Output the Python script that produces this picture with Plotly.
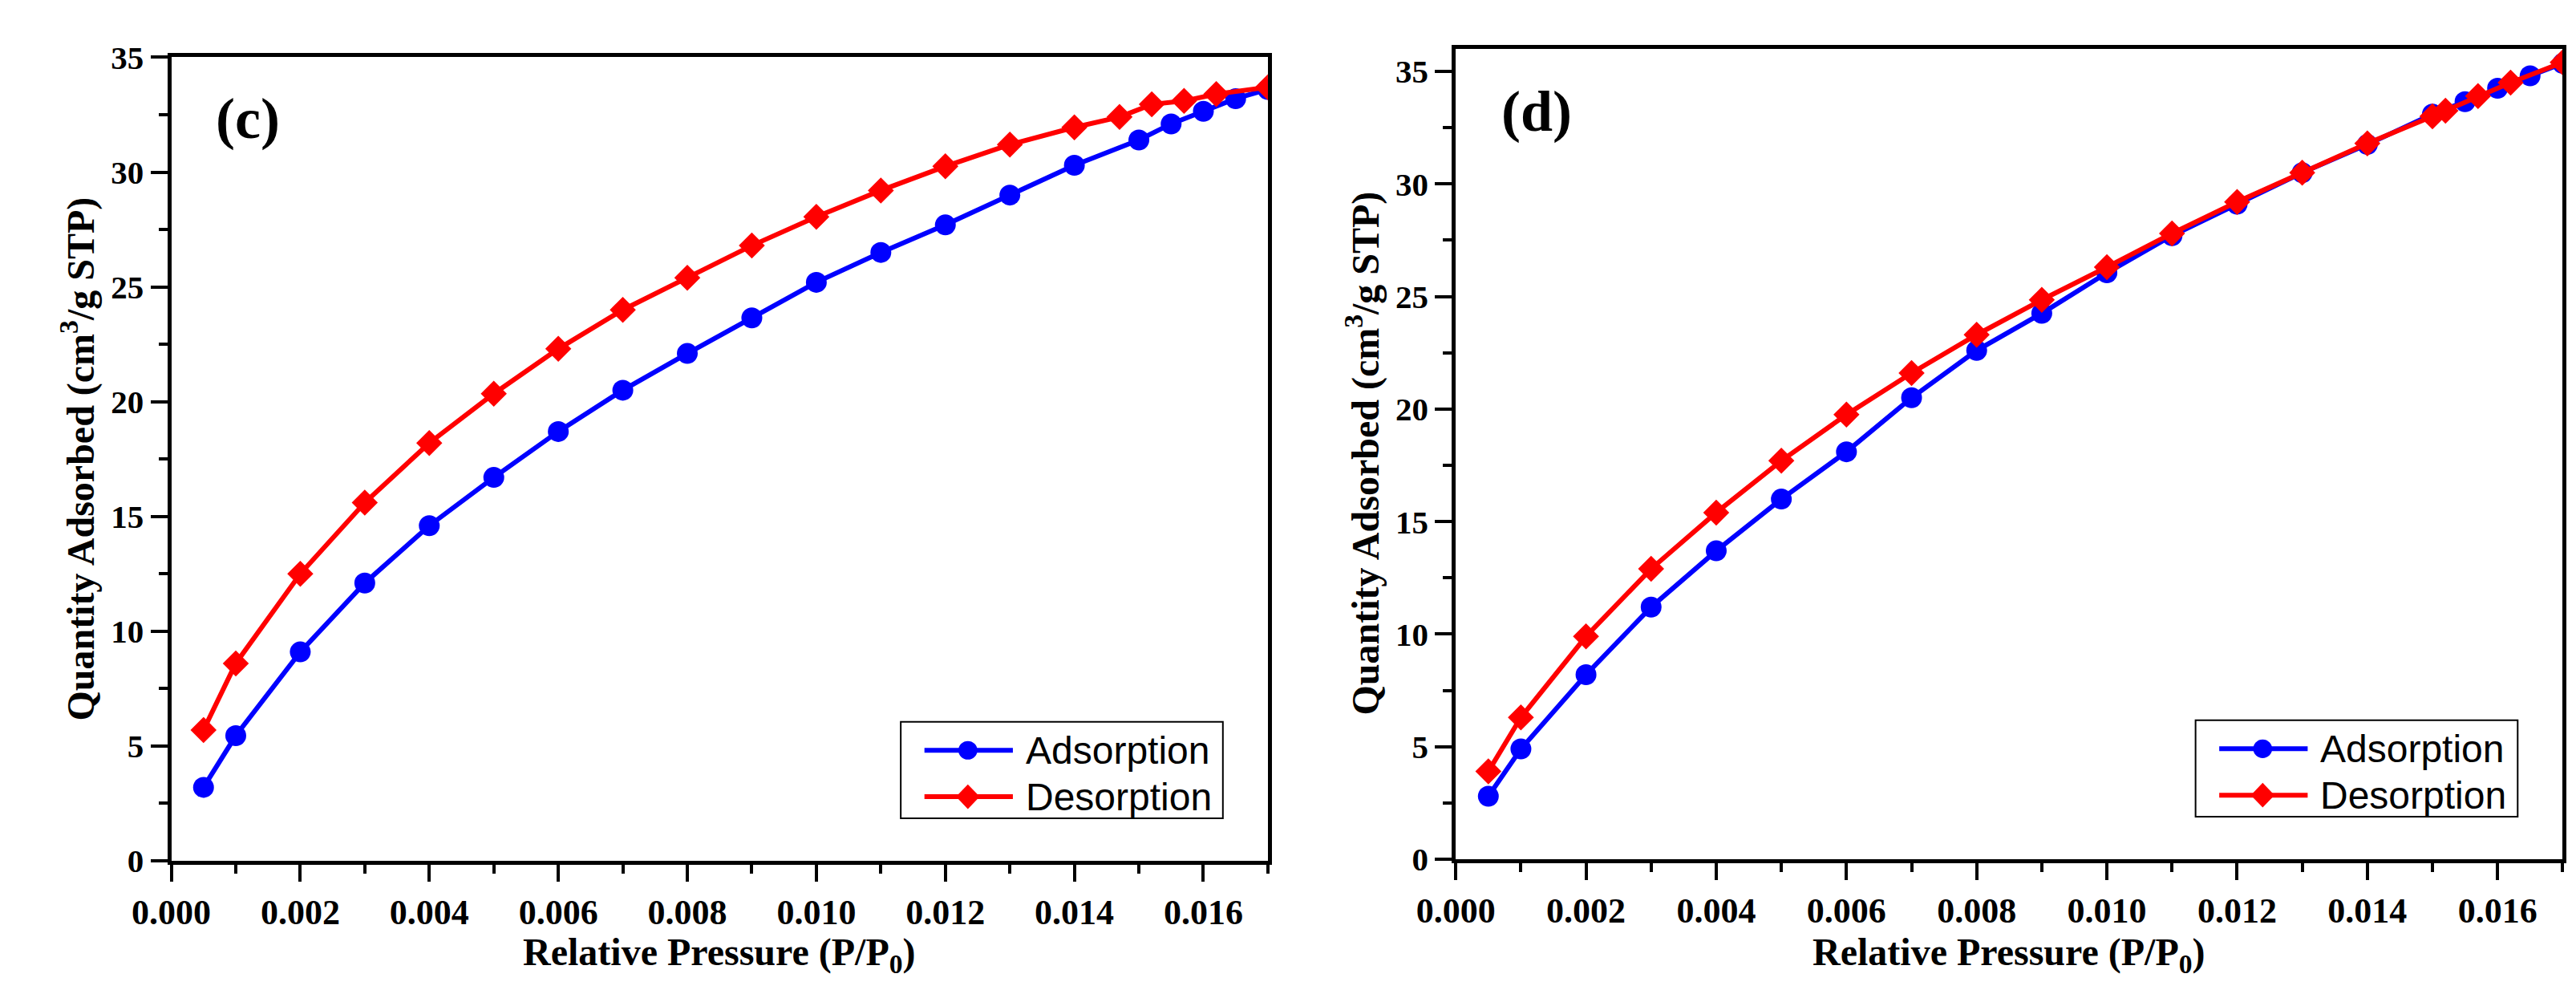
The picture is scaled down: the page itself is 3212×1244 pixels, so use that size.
import plotly.graph_objects as go

W, H = 3212, 1244

# panel (c)
c_ads_x = [0.0005, 0.001, 0.002, 0.003, 0.004, 0.005, 0.006, 0.007, 0.008, 0.009,
           0.010, 0.011, 0.012, 0.013, 0.014, 0.015, 0.0155, 0.016, 0.0165, 0.017]
c_ads_y = [3.2, 5.45, 9.1, 12.1, 14.6, 16.7, 18.7, 20.5, 22.1, 23.65,
           25.2, 26.5, 27.7, 29.0, 30.3, 31.4, 32.1, 32.65, 33.2, 33.6]
c_des_x = [0.0005, 0.001, 0.002, 0.003, 0.004, 0.005, 0.006, 0.007, 0.008, 0.009,
           0.010, 0.011, 0.012, 0.013, 0.014, 0.0147, 0.0152, 0.0157, 0.0162, 0.017]
c_des_y = [5.7, 8.6, 12.5, 15.6, 18.2, 20.35, 22.3, 24.0, 25.4, 26.8,
           28.05, 29.2, 30.25, 31.2, 31.95, 32.4, 32.95, 33.1, 33.4, 33.7]

# panel (d)
d_ads_x = [0.0005, 0.001, 0.002, 0.003, 0.004, 0.005, 0.006, 0.007, 0.008, 0.009,
           0.010, 0.011, 0.012, 0.013, 0.014, 0.015, 0.0155, 0.016, 0.0165, 0.017]
d_ads_y = [2.8, 4.9, 8.2, 11.2, 13.7, 16.0, 18.1, 20.5, 22.6, 24.25,
           26.05, 27.7, 29.1, 30.5, 31.75, 33.1, 33.65, 34.25, 34.8, 35.35]
d_des_x = [0.0005, 0.001, 0.002, 0.003, 0.004, 0.005, 0.006, 0.007, 0.008, 0.009,
           0.010, 0.011, 0.012, 0.013, 0.014, 0.015, 0.0152, 0.0157, 0.0162, 0.017]
d_des_y = [3.9, 6.3, 9.9, 12.9, 15.4, 17.7, 19.75, 21.6, 23.3, 24.85,
           26.3, 27.8, 29.2, 30.5, 31.8, 33.0, 33.25, 33.9, 34.5, 35.4]

x_ticks = [0.000, 0.002, 0.004, 0.006, 0.008, 0.010, 0.012, 0.014, 0.016]
series_names = ["Adsorption", "Desorption"]

BLUE = "#0000ff"
RED = "#ff0000"
SERIF = "Liberation Serif"
SANS = "Liberation Sans"


def px(x):
    return x / W


def py(y):
    return 1 - y / H


fig = go.Figure()

for xa, ya, ax, ay, dx, dy in [
    ("x", "y", c_ads_x, c_ads_y, c_des_x, c_des_y),
    ("x2", "y2", d_ads_x, d_ads_y, d_des_x, d_des_y),
]:
    fig.add_trace(go.Scatter(
        x=ax, y=ay, xaxis=xa, yaxis=ya, name=series_names[0], showlegend=False,
        mode="lines+markers",
        line=dict(color=BLUE, width=6),
        marker=dict(symbol="circle", size=26, color=BLUE),
    ))
    fig.add_trace(go.Scatter(
        x=dx, y=dy, xaxis=xa, yaxis=ya, name=series_names[1], showlegend=False,
        mode="lines+markers",
        line=dict(color=RED, width=6),
        marker=dict(symbol="diamond", size=25, color=RED),
    ))

tick_common = dict(
    showline=True, linewidth=5, linecolor="black", mirror=True,
    showgrid=False, zeroline=False,
    ticks="outside", ticklen=21, tickwidth=4, tickcolor="black",
)

xcommon = dict(
    tick_common, range=[0, 0.017], tickvals=x_ticks, tickformat=".3f",
    tickfont=dict(family=SERIF, size=44, color="black", weight="bold"),
    minor=dict(dtick=0.001, ticks="outside", ticklen=11, tickwidth=4, tickcolor="black"),
)
ycommon = dict(
    tick_common, dtick=5,
    tickfont=dict(family=SERIF, size=41, color="black", weight="bold"),
    minor=dict(dtick=2.5, ticks="outside", ticklen=11, tickwidth=4, tickcolor="black"),
)

fig.update_layout(
    width=W, height=H,
    margin=dict(l=0, r=0, t=0, b=0),
    paper_bgcolor="white", plot_bgcolor="white",
    showlegend=False,
    xaxis=dict(xcommon, domain=[px(158), px(1547)], anchor="y"),
    yaxis=dict(ycommon, domain=[py(1082), py(42)], range=[0, 35], anchor="x"),
    xaxis2=dict(xcommon, domain=[px(1785), px(3187)], anchor="y2"),
    yaxis2=dict(ycommon, domain=[py(1080), py(31)], range=[0, 36], anchor="x2"),
)

ylabel = "<b>Quantity Adsorbed (cm<sup>3</sup>/g STP)</b>"
xlabel = "<b>Relative Pressure (P/P<sub>0</sub>)</b>"
label_font = dict(family=SERIF, size=48, color="black")
panel_font = dict(family=SERIF, size=72, color="black")

for xl, yl, cx, cy, tag, tx, ty in [
    (40, 562, 852, 1170, "(c)", 255, 122),
    (1667, 555, 2486, 1170, "(d)", 1887, 112),
]:
    fig.add_annotation(x=px(xl), y=py(yl), xref="paper", yref="paper", text=ylabel,
                       textangle=-90, showarrow=False, font=label_font,
                       xanchor="center", yanchor="middle")
    fig.add_annotation(x=px(cx), y=py(cy), xref="paper", yref="paper", text=xlabel,
                       showarrow=False, font=label_font,
                       xanchor="center", yanchor="top")
    fig.add_annotation(x=px(tx), y=py(ty), xref="paper", yref="paper",
                       text="<b>" + tag + "</b>", showarrow=False, font=panel_font,
                       xanchor="center", yanchor="middle")


# Origin-style legend box: long line with the marker in the middle
def add_legend(bx, by):
    fig.add_shape(type="rect", xref="paper", yref="paper",
                  x0=px(bx), x1=px(bx + 408), y0=py(by), y1=py(by + 125),
                  line=dict(color="black", width=2), fillcolor="white", layer="above")
    rows = [(series_names[0], BLUE, "circle", 37), (series_names[1], RED, "diamond", 97)]
    for name, col, sym, dy in rows:
        yc = by + dy
        mx = bx + 85
        fig.add_shape(type="line", xref="paper", yref="paper",
                      x0=px(bx + 30), x1=px(bx + 142), y0=py(yc), y1=py(yc),
                      line=dict(color=col, width=6), layer="above")
        if sym == "circle":
            fig.add_shape(type="circle", xref="paper", yref="paper",
                          x0=px(mx - 12), x1=px(mx + 12), y0=py(yc - 12), y1=py(yc + 12),
                          line=dict(width=0), fillcolor=col, layer="above")
        else:
            path = "M {:.6f},{:.6f} L {:.6f},{:.6f} L {:.6f},{:.6f} L {:.6f},{:.6f} Z".format(
                px(mx - 15), py(yc), px(mx), py(yc - 16), px(mx + 15), py(yc), px(mx), py(yc + 16))
            fig.add_shape(type="path", xref="paper", yref="paper", path=path,
                          line=dict(width=0), fillcolor=col, layer="above")
        fig.add_annotation(x=px(bx + 156), y=py(yc), xref="paper", yref="paper",
                           text=name, showarrow=False, xanchor="left", yanchor="middle",
                           font=dict(family=SANS, size=48, color="black"))


add_legend(1082, 902)
add_legend(2722, 900)

fig.write_html("out.html")
